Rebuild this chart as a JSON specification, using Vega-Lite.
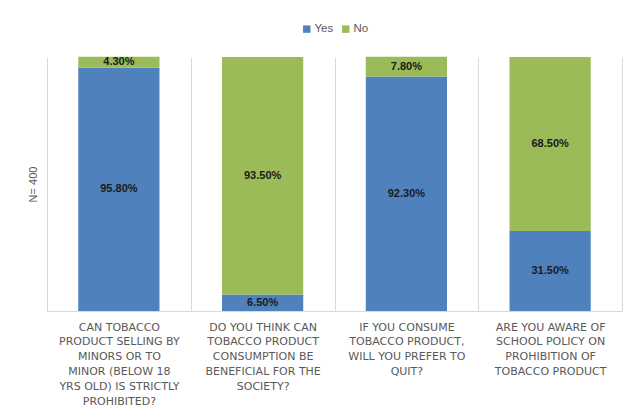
{
  "$schema": "https://vega.github.io/schema/vega-lite/v6.json",
  "width": 575,
  "height": 254,
  "padding": {"left": 47, "top": 57, "right": 7, "bottom": 106},
  "autosize": {"type": "none"},
  "background": "white",
  "config": {"view": {"stroke": null}, "legend": {"layout": {"top": {"anchor": "middle"}}}},
  "data": {"values": [
    {"q": "CAN TOBACCO|PRODUCT SELLING BY|MINORS OR TO|MINOR (BELOW 18|YRS OLD) IS STRICTLY|PROHIBITED?", "ord": 1, "resp": "Yes", "o": 1, "v": 95.8},
    {"q": "CAN TOBACCO|PRODUCT SELLING BY|MINORS OR TO|MINOR (BELOW 18|YRS OLD) IS STRICTLY|PROHIBITED?", "ord": 1, "resp": "No", "o": 2, "v": 4.3},
    {"q": "DO YOU THINK CAN|TOBACCO PRODUCT|CONSUMPTION BE|BENEFICIAL FOR THE|SOCIETY?", "ord": 2, "resp": "Yes", "o": 1, "v": 6.5},
    {"q": "DO YOU THINK CAN|TOBACCO PRODUCT|CONSUMPTION BE|BENEFICIAL FOR THE|SOCIETY?", "ord": 2, "resp": "No", "o": 2, "v": 93.5},
    {"q": "IF YOU CONSUME|TOBACCO PRODUCT,|WILL YOU PREFER TO|QUIT?", "ord": 3, "resp": "Yes", "o": 1, "v": 92.3},
    {"q": "IF YOU CONSUME|TOBACCO PRODUCT,|WILL YOU PREFER TO|QUIT?", "ord": 3, "resp": "No", "o": 2, "v": 7.8},
    {"q": "ARE YOU AWARE OF|SCHOOL POLICY ON|PROHIBITION OF|TOBACCO PRODUCT", "ord": 4, "resp": "Yes", "o": 1, "v": 31.5},
    {"q": "ARE YOU AWARE OF|SCHOOL POLICY ON|PROHIBITION OF|TOBACCO PRODUCT", "ord": 4, "resp": "No", "o": 2, "v": 68.5}
  ]},
  "transform": [
    {"stack": "v", "groupby": ["q"], "sort": [{"field": "o", "order": "ascending"}], "as": ["v0", "v1"]},
    {"calculate": "(datum.v0 + datum.v1) / 2", "as": "vm"},
    {"calculate": "format(datum.v, '.2f') + '%'", "as": "lbl"}
  ],
  "encoding": {
    "x": {
      "field": "q", "type": "nominal",
      "sort": {"field": "ord", "op": "min"},
      "scale": {"paddingInner": 0, "paddingOuter": 0},
      "axis": {
        "title": null,
        "labelAngle": 0,
        "labelExpr": "split(datum.label, '|')",
        "labelFont": "DejaVu Sans",
        "labelFontSize": 11,
        "labelColor": "#595959",
        "labelLineHeight": 14.8,
        "labelBaseline": "top",
        "labelPadding": 10,
        "labelLimit": 300,
        "ticks": false,
        "grid": true,
        "tickBand": "extent",
        "gridColor": "#d9d9d9",
        "gridWidth": 1,
        "domainColor": "#d9d9d9",
        "domainWidth": 1
      }
    }
  },
  "layer": [
    {
      "mark": {"type": "bar", "width": {"band": 0.565}},
      "encoding": {
        "y": {
          "field": "v0", "type": "quantitative",
          "scale": {"domain": [0, 100], "nice": false},
          "axis": {
            "title": "N= 400",
            "titleFont": "Liberation Sans",
            "titleFontSize": 11,
            "titleFontWeight": "normal",
            "titleColor": "#595959",
            "titlePadding": 9,
            "labels": false,
            "ticks": false,
            "grid": false,
            "domain": false
          }
        },
        "y2": {"field": "v1"},
        "color": {
          "field": "resp", "type": "nominal",
          "scale": {"domain": ["Yes", "No"], "range": ["#4F81BD", "#9BBB59"]},
          "legend": {
            "title": null,
            "orient": "top",
            "direction": "horizontal",
            "symbolType": "square",
            "symbolSize": 55,
            "symbolStrokeWidth": 0,
            "labelFont": "Liberation Sans",
            "labelFontSize": 11.5,
            "labelColor": "#595959",
            "offset": 22,
            "columnPadding": 6,
            "labelOffset": 2
          }
        }
      }
    },
    {
      "mark": {"type": "text", "font": "Liberation Sans", "fontWeight": "bold", "fontSize": 11, "color": "#1a1a1a", "baseline": "middle"},
      "encoding": {
        "y": {"field": "vm", "type": "quantitative"},
        "text": {"field": "lbl", "type": "nominal"}
      }
    }
  ]
}
